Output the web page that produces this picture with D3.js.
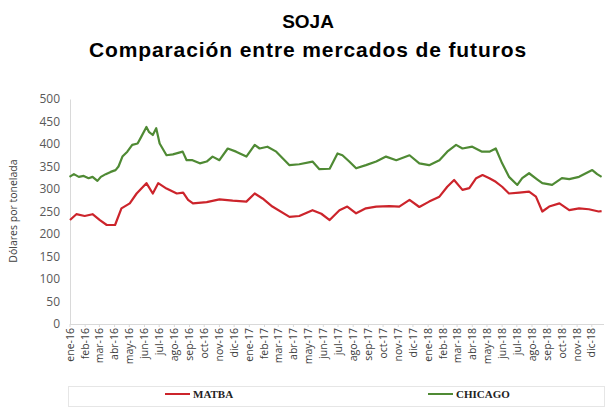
<!DOCTYPE html>
<html><head><meta charset="utf-8">
<script src="https://cdn.jsdelivr.net/npm/d3@7"></script>
<style>body{margin:0;background:#fff;}svg{display:block;}</style>
</head><body>
<script>
const title1 = "SOJA";
const title2 = "Comparación entre mercados de futuros";
const yLabel = "Dólares por tonelada";
const yTicks = [0,50,100,150,200,250,300,350,400,450,500];
const monthNames = ["ene","feb","mar","abr","may","jun","jul","ago","sep","oct","nov","dic"];
const years = ["16","17","18"];
const seriesNames = ["MATBA","CHICAGO"];

const chicagoDates = ["2016-01-01","2016-01-10","2016-01-20","2016-01-30","2016-02-09","2016-02-17","2016-02-27","2016-03-05","2016-03-15","2016-03-25","2016-04-04","2016-04-10","2016-04-18","2016-04-28","2016-05-08","2016-05-19","2016-05-25","2016-06-06","2016-06-11","2016-06-19","2016-06-26","2016-07-03","2016-07-17","2016-07-30","2016-08-19","2016-08-27","2016-09-08","2016-09-23","2016-10-07","2016-10-19","2016-11-02","2016-11-19","2016-12-06","2016-12-27","2017-01-13","2017-01-23","2017-02-08","2017-02-26","2017-03-25","2017-04-14","2017-05-11","2017-05-25","2017-06-15","2017-07-01","2017-07-11","2017-07-25","2017-08-08","2017-08-28","2017-09-18","2017-10-08","2017-10-29","2017-11-25","2017-12-15","2018-01-04","2018-01-25","2018-02-10","2018-02-28","2018-03-13","2018-04-02","2018-04-22","2018-05-07","2018-05-20","2018-06-02","2018-06-16","2018-07-03","2018-07-13","2018-07-27","2018-08-13","2018-08-23","2018-09-12","2018-10-02","2018-10-17","2018-11-06","2018-12-03","2018-12-13","2018-12-22"];
const chicagoValues = [327,333,327,329,324,327,318,327,333,338,342,350,372,383,398,401,413,438,427,420,435,401,375,377,383,364,364,357,361,372,364,390,383,372,398,390,394,383,353,355,361,344,345,379,375,361,346,353,361,372,364,375,357,353,364,383,398,390,394,383,383,390,357,327,309,324,335,321,313,309,324,322,327,342,333,327];

const matbaDates = ["2016-01-02","2016-01-15","2016-02-01","2016-02-17","2016-03-03","2016-03-17","2016-04-03","2016-04-16","2016-05-03","2016-05-17","2016-06-06","2016-06-19","2016-06-30","2016-07-17","2016-08-07","2016-08-20","2016-08-30","2016-09-09","2016-10-07","2016-11-02","2016-11-29","2016-12-27","2017-01-13","2017-01-29","2017-02-18","2017-03-25","2017-04-14","2017-05-11","2017-05-29","2017-06-15","2017-07-05","2017-07-21","2017-08-08","2017-08-28","2017-09-18","2017-10-15","2017-11-04","2017-11-25","2017-12-15","2018-01-04","2018-01-25","2018-02-10","2018-02-24","2018-03-13","2018-03-27","2018-04-10","2018-04-23","2018-05-07","2018-05-20","2018-06-02","2018-06-16","2018-07-07","2018-07-27","2018-08-10","2018-08-23","2018-09-06","2018-09-27","2018-10-17","2018-11-06","2018-11-26","2018-12-16","2018-12-22"];
const matbaValues = [231,244,240,244,231,220,220,257,268,290,313,290,313,301,290,292,276,268,271,277,274,272,290,279,261,238,240,253,245,231,253,261,246,257,261,262,261,276,260,272,283,305,320,298,302,324,331,324,316,305,290,292,294,283,250,261,268,253,257,255,250,251];

const colors = {MATBA:"#cc242b", CHICAGO:"#4f8a34"};
const W = 616, H = 412;
const svg = d3.select("body").append("svg").attr("width",W).attr("height",H);
const parse = d3.timeParse("%Y-%m-%d");

const x = d3.scaleTime().domain([parse("2016-01-01"), parse("2018-12-31")]).range([69.5, 606]);
const y = d3.scaleLinear().domain([0,500]).range([324, 99]);

// titles
svg.append("text").attr("x",308).attr("y",28).attr("text-anchor","middle")
  .style("font-family","Liberation Sans, Arial, sans-serif").style("font-weight","bold").style("font-size","19px").attr("fill","#000").text(title1);
svg.append("text").attr("x",308).attr("y",57).attr("text-anchor","middle")
  .style("font-family","Liberation Sans, Arial, sans-serif").style("font-weight","bold").style("font-size","21px").style("letter-spacing","0.9px").attr("fill","#000").text(title2);

// y axis
const yAxis = d3.axisLeft(y).tickValues(yTicks).tickSize(0).tickPadding(10);
const gy = svg.append("g").attr("transform","translate(70,0)").call(yAxis);
gy.select(".domain").attr("stroke","#d9d9d9");
gy.selectAll("text").style("font-family","Open Sans, sans-serif").style("font-size","12px").attr("fill","#595959");

svg.append("text").attr("transform","translate(17,211) rotate(-90)").attr("text-anchor","middle")
  .style("font-family","Open Sans, sans-serif").style("font-size","10.5px").attr("fill","#404040").text(yLabel);

// x axis
const monthTicks = d3.timeMonth.range(parse("2016-01-01"), parse("2019-01-01"));
const monthLabels = [];
years.forEach(yy => monthNames.forEach(m => monthLabels.push(m + "-" + yy)));
const xAxis = d3.axisBottom(x).tickValues(monthTicks).tickSize(3).tickFormat((d,i) => monthLabels[i]);
const gx = svg.append("g").attr("transform","translate(0,324)").call(xAxis);
gx.select(".domain").attr("stroke","#d9d9d9").attr("d","M70,0.5H604");
gx.selectAll(".tick line").attr("stroke","#d9d9d9");
gx.selectAll("text").attr("transform","rotate(-90)").attr("text-anchor","end")
  .attr("x",-4).attr("y",0).attr("dy","0.35em")
  .style("font-family","Open Sans, sans-serif").style("font-size","10.5px").attr("fill","#404040");

// lines
const line = d3.line().x(d => x(d.date)).y(d => y(d.value));
const matba = matbaDates.map((d,i) => ({date:parse(d), value:matbaValues[i]}));
const chicago = chicagoDates.map((d,i) => ({date:parse(d), value:chicagoValues[i]}));
svg.append("path").datum(chicago).attr("d",line).attr("fill","none").attr("stroke",colors.CHICAGO).attr("stroke-width",2.2).attr("stroke-linejoin","round");
svg.append("path").datum(matba).attr("d",line).attr("fill","none").attr("stroke",colors.MATBA).attr("stroke-width",2.2).attr("stroke-linejoin","round");

// legend
svg.append("rect").attr("x",68.5).attr("y",386.5).attr("width",536).attr("height",20).attr("fill","none").attr("stroke","#e6e6e6");
const legendX = [165, 428];
seriesNames.forEach((n,i) => {
  svg.append("line").attr("x1",legendX[i]).attr("x2",legendX[i]+25).attr("y1",394).attr("y2",394).attr("stroke",colors[n]).attr("stroke-width",2);
  svg.append("text").attr("x",legendX[i]+28).attr("y",398).style("font-family","Liberation Serif, Times New Roman, serif")
    .style("font-weight","bold").style("font-size","11px").attr("fill","#222").text(n);
});
</script>
</body></html>
